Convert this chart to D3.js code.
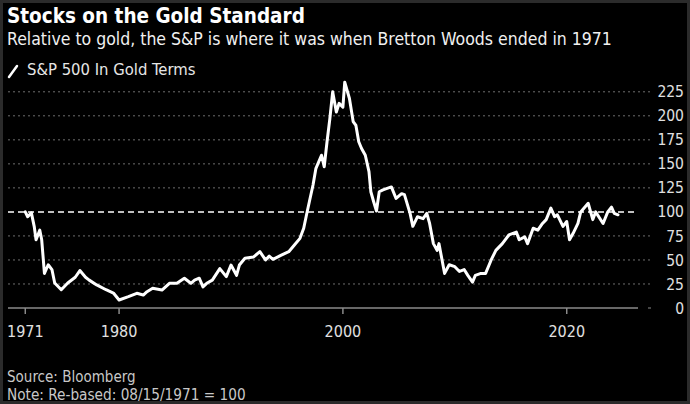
<!DOCTYPE html>
<html><head><meta charset="utf-8">
<script src="https://cdn.jsdelivr.net/npm/d3@7"></script>
<style>
html,body{margin:0;padding:0;background:#000;}
svg{display:block;}
text{font-family:"DejaVu Sans Condensed","Liberation Sans Narrow","Liberation Sans",sans-serif;}
</style></head>
<body>
<svg id="chart" width="690" height="404"></svg>
<script>
const dates = ["1971-08-15","1971-11","1972-03","1972-06","1972-08","1972-12","1973-02","1973-05","1973-09","1974-01","1974-04","1974-11","1975-06","1976-02","1976-07","1977-01","1977-05","1978-01","1978-11","1979-07","1980-01","1980-11","1981-08","1982-03","1982-07","1983-01","1983-11","1984-07","1985-03","1985-11","1986-06","1986-10","1987-03","1987-07","1987-11","1988-05","1989-01","1989-08","1990-01","1990-07","1990-10","1991-04","1992-01","1992-08","1993-02","1993-06","1993-10","1994-07","1995-03","1995-09","1996-03","1996-07","1996-10","1997-01","1997-05","1997-08","1998-02","1998-05","1998-08","1998-11","1999-02","1999-06","1999-09","2000-01","2000-03","2000-08","2000-12","2001-03","2001-06","2001-09","2002-01","2002-05","2002-07","2002-10","2003-01","2003-04","2003-08","2004-05","2004-10","2005-04","2005-07","2006-01","2006-04","2006-09","2007-03","2007-07","2007-10","2008-02","2008-06","2008-08","2009-02","2009-07","2010-01","2010-06","2010-11","2011-03","2011-08","2011-11","2012-05","2012-10","2013-04","2013-09","2014-04","2014-11","2015-07","2015-10","2016-04","2016-07","2017-01","2017-06","2017-11","2018-03","2018-08","2018-12","2019-03","2019-09","2020-01","2020-04","2020-08","2021-01","2021-04","2021-12","2022-05","2022-08","2023-04","2023-09","2024-01","2024-04","2024-08"];
const values = [100,95,99,85,71,81,71,36,45,40,26,19,26,32,39,32,29,24,19,15.6,8.3,11.8,15.3,13.5,17,20.5,18.7,25.7,25.7,31,25.7,29,31,22,25.7,29,41,32.6,44.7,34,44.7,51.7,53,58.6,50,54,50.7,55,58.6,65.5,72.5,83,97,110.6,128,145,159,147,173,197,225,204,213,209,235,218,194,190,173,166,159,142,121,110.6,101,121,123,126,114,119,118,98.5,85,95,93,98.5,88,67,60,67,36,45,43,38,40,34,27,34,36,36,50,60,67,76,79,71,74,67,83,81,88,92,104,95,97,85,90,71,78,88,100,109,92,100,88,100,105,98.5,97];
const yTicks = [0,25,50,75,100,125,150,175,200,225];
const xTickDates = ["1971-08-15","1980-01-01","2000-01-01","2020-01-01"];
const xTickLabels = ["1971","1980","2000","2020"];
const title = "Stocks on the Gold Standard";
const subtitle = "Relative to gold, the S&P is where it was when Bretton Woods ended in 1971";
const legendLabel = "S&P 500 In Gold Terms";
const source = "Source: Bloomberg";
const note = "Note: Re-based: 08/15/1971 = 100";

const parse = s => s.length === 7 ? d3.timeParse("%Y-%m")(s) : d3.timeParse("%Y-%m-%d")(s);
const data = dates.map((d,i)=>({date:parse(d), value:values[i]}));

const svg = d3.select("#chart");
svg.append("rect").attr("x",0).attr("y",0).attr("width",690).attr("height",404).attr("fill","#000");
svg.append("rect").attr("x",1.5).attr("y",1.5).attr("width",687).attr("height",401).attr("fill","none").attr("stroke","#2b2b2b").attr("stroke-width",3);

const x = d3.scaleTime().domain([new Date(1970,0,28), new Date(2026,4,15)]).range([8,638]);
const y = d3.scaleLinear().domain([0,225]).range([308,91.8]);

// gridlines
svg.append("g").selectAll("line").data(yTicks.filter(t=>t!==0 && t!==100)).join("line")
  .attr("x1",8).attr("x2",650).attr("y1",d=>y(d)).attr("y2",d=>y(d))
  .attr("stroke","#6e6e6e").attr("stroke-width",1).attr("stroke-dasharray","2,3");
// baseline
svg.append("line").attr("x1",8).attr("x2",638).attr("y1",y(0)).attr("y2",y(0)).attr("stroke","#8a8a8a").attr("stroke-width",1.5);
svg.append("line").attr("x1",648).attr("x2",651).attr("y1",y(0)).attr("y2",y(0)).attr("stroke","#8a8a8a").attr("stroke-width",1);

// y labels
svg.append("g").selectAll("text").data(yTicks).join("text")
  .attr("x",684).attr("y",d=>y(d)).attr("dy","0.36em").attr("text-anchor","end")
  .attr("fill","#e0e0e0").attr("font-size",15.5).text(d=>d);

// x ticks
svg.append("g").selectAll("line").data(xTickDates).join("line")
  .attr("x1",d=>x(parse(d))).attr("x2",d=>x(parse(d))).attr("y1",y(0)).attr("y2",y(0)+6)
  .attr("stroke","#8a8a8a").attr("stroke-width",1.5);
svg.append("g").selectAll("text").data(xTickDates).join("text")
  .attr("x",d=>x(parse(d))).attr("y",337).attr("text-anchor","middle")
  .attr("fill","#e0e0e0").attr("font-size",16).text((d,i)=>xTickLabels[i]);

// line
const line = d3.line().x(d=>x(d.date)).y(d=>y(d.value));
svg.append("path").datum(data).attr("d",line).attr("fill","none")
  .attr("stroke","#fff").attr("stroke-width",3).attr("stroke-linejoin","round").attr("stroke-linecap","round");

// reference 100 line
svg.append("line").attr("x1",8).attr("x2",638).attr("y1",y(100)).attr("y2",y(100))
  .attr("stroke","#fff").attr("stroke-width",1.5).attr("stroke-dasharray","6,4");

// titles
svg.append("text").attr("x",7).attr("y",23).attr("fill","#fff").attr("font-size",20.5).attr("font-weight","bold").text(title);
svg.append("text").attr("x",7).attr("y",45).attr("fill","#f0f0f0").attr("font-size",17.5).text(subtitle);
// legend
svg.append("line").attr("x1",9).attr("y1",77).attr("x2",17).attr("y2",66).attr("stroke","#fff").attr("stroke-width",2.5).attr("stroke-linecap","round");
svg.append("text").attr("x",27).attr("y",75).attr("fill","#e6e6e6").attr("font-size",16.5).text(legendLabel);
// footer
svg.append("text").attr("x",7).attr("y",382).attr("fill","#c8c8c8").attr("font-size",15).text(source);
svg.append("text").attr("x",7).attr("y",400).attr("fill","#c8c8c8").attr("font-size",15.2).text(note);
</script>
</body></html>
